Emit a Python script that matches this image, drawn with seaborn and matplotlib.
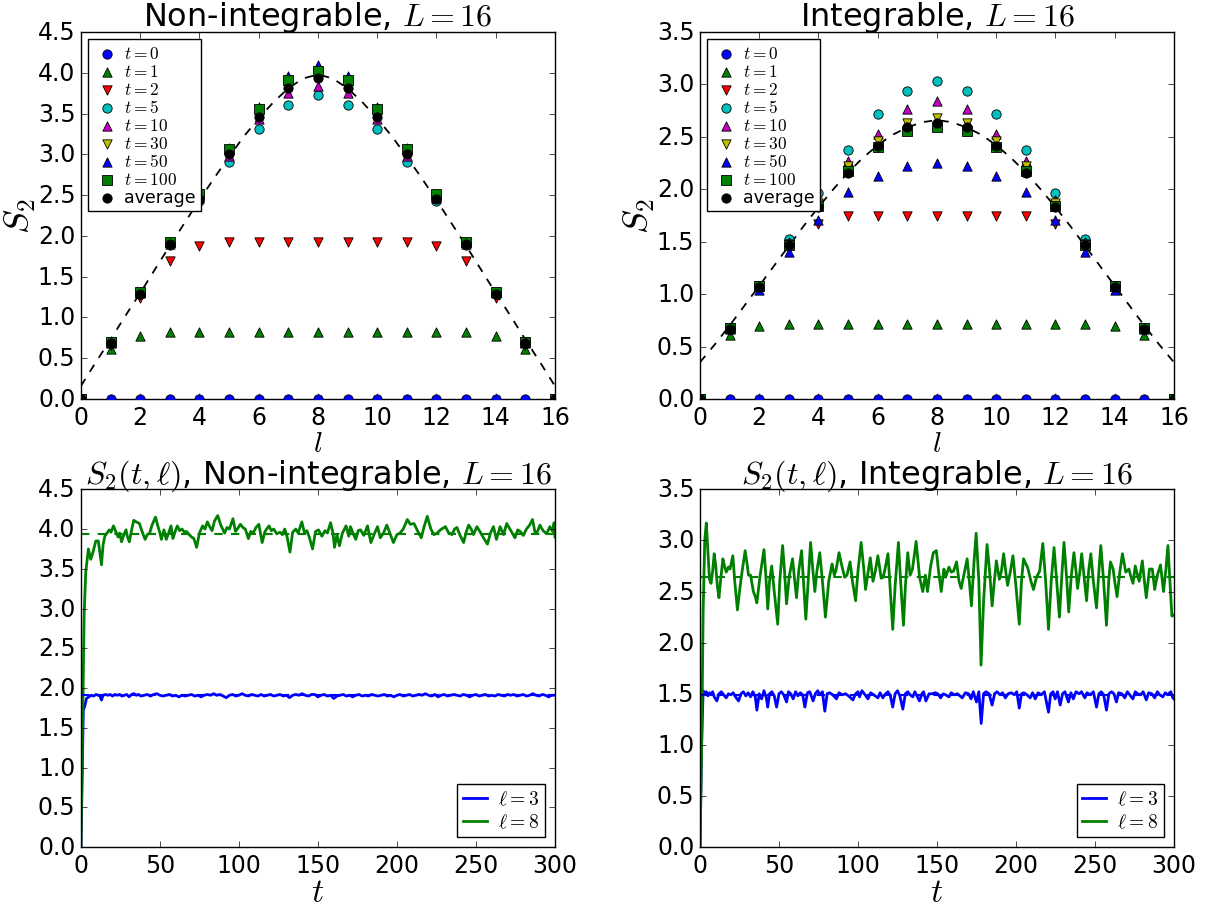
import numpy as np
import pandas as pd
import matplotlib
matplotlib.use("Agg")
import matplotlib.pyplot as plt
import seaborn as sns

# ---------------- data: S2 vs subsystem size l ----------------
ells = list(range(17))
labels = [r"$t=0$", r"$t=1$", r"$t=2$", r"$t=5$", r"$t=10$", r"$t=30$", r"$t=50$", r"$t=100$", "average"]
markers = ["o", "^", "v", "o", "^", "v", "^", "s", "o"]
colors = ["b", "g", "r", "c", "m", "y", "b", "g", "k"]

# non-integrable, L=16
ni_t0 = [0, 0, 0, 0, 0, 0, 0, 0, 0, 0, 0, 0, 0, 0, 0, 0, 0]
ni_t1 = [0, 0.61, 0.77, 0.82, 0.82, 0.82, 0.82, 0.82, 0.82, 0.82, 0.82, 0.82, 0.82, 0.82, 0.77, 0.61, 0]
ni_t2 = [0, 0.66, 1.24, 1.69, 1.88, 1.92, 1.92, 1.92, 1.92, 1.92, 1.92, 1.92, 1.88, 1.69, 1.24, 0.66, 0]
ni_t5 = [0, 0.69, 1.29, 1.89, 2.43, 2.91, 3.31, 3.61, 3.73, 3.61, 3.31, 2.91, 2.43, 1.89, 1.29, 0.69, 0]
ni_t10 = [0, 0.69, 1.30, 1.90, 2.46, 2.98, 3.43, 3.75, 3.84, 3.75, 3.43, 2.98, 2.46, 1.90, 1.30, 0.69, 0]
ni_t30 = [0, 0.70, 1.30, 1.91, 2.47, 3.04, 3.52, 3.88, 3.97, 3.88, 3.52, 3.04, 2.47, 1.91, 1.30, 0.70, 0]
ni_t50 = [0, 0.70, 1.31, 1.92, 2.49, 3.08, 3.58, 3.96, 4.10, 3.96, 3.58, 3.08, 2.49, 1.92, 1.31, 0.70, 0]
ni_t100 = [0, 0.70, 1.31, 1.92, 2.51, 3.07, 3.55, 3.91, 4.02, 3.91, 3.55, 3.07, 2.51, 1.92, 1.31, 0.70, 0]
ni_avg = [0, 0.69, 1.29, 1.90, 2.45, 3.00, 3.46, 3.81, 3.93, 3.81, 3.46, 3.00, 2.45, 1.90, 1.29, 0.69, 0]

# integrable, L=16
in_t0 = [0, 0, 0, 0, 0, 0, 0, 0, 0, 0, 0, 0, 0, 0, 0, 0, 0]
in_t1 = [0, 0.61, 0.70, 0.72, 0.72, 0.72, 0.72, 0.72, 0.72, 0.72, 0.72, 0.72, 0.72, 0.72, 0.70, 0.61, 0]
in_t2 = [0, 0.66, 1.05, 1.45, 1.67, 1.75, 1.75, 1.75, 1.75, 1.75, 1.75, 1.75, 1.67, 1.45, 1.05, 0.66, 0]
in_t5 = [0, 0.68, 1.08, 1.53, 1.96, 2.37, 2.72, 2.94, 3.03, 2.94, 2.72, 2.37, 1.96, 1.53, 1.08, 0.68, 0]
in_t10 = [0, 0.68, 1.08, 1.50, 1.90, 2.27, 2.53, 2.77, 2.84, 2.77, 2.53, 2.27, 1.90, 1.50, 1.08, 0.68, 0]
in_t30 = [0, 0.68, 1.08, 1.48, 1.87, 2.22, 2.46, 2.63, 2.68, 2.63, 2.46, 2.22, 1.87, 1.48, 1.08, 0.68, 0]
in_t50 = [0, 0.67, 1.04, 1.40, 1.71, 1.97, 2.13, 2.22, 2.25, 2.22, 2.13, 1.97, 1.71, 1.40, 1.04, 0.67, 0]
in_t100 = [0, 0.68, 1.08, 1.47, 1.84, 2.17, 2.40, 2.56, 2.59, 2.56, 2.40, 2.17, 1.84, 1.47, 1.08, 0.68, 0]
in_avg = [0, 0.67, 1.07, 1.47, 1.83, 2.16, 2.41, 2.59, 2.63, 2.59, 2.41, 2.16, 1.83, 1.47, 1.07, 0.67, 0]

# dashed theory curves (l = 0, 0.5, ..., 16)
l_fine = [0, 0.5, 1, 1.5, 2, 2.5, 3, 3.5, 4, 4.5, 5, 5.5, 6, 6.5, 7, 7.5, 8,
          8.5, 9, 9.5, 10, 10.5, 11, 11.5, 12, 12.5, 13, 13.5, 14, 14.5, 15, 15.5, 16]
ni_curve = [0.16, 0.45, 0.73, 1.02, 1.30, 1.59, 1.88, 2.16, 2.44, 2.71, 2.97, 3.22, 3.44, 3.64, 3.81, 3.93, 3.98,
            3.93, 3.81, 3.64, 3.44, 3.22, 2.97, 2.71, 2.44, 2.16, 1.88, 1.59, 1.30, 1.02, 0.73, 0.45, 0.16]
in_curve = [0.35, 0.52, 0.70, 0.89, 1.08, 1.27, 1.46, 1.65, 1.83, 2.00, 2.16, 2.30, 2.42, 2.52, 2.59, 2.64, 2.66,
            2.64, 2.59, 2.52, 2.42, 2.30, 2.16, 2.00, 1.83, 1.65, 1.46, 1.27, 1.08, 0.89, 0.70, 0.52, 0.35]

# ---------------- data: S2(t, l) time series ----------------
ni_l3 = [(0, 0.0), (1, 1.2), (1.5, 1.72), (2.5, 1.78), (3.5, 1.87), (5, 1.89), (6.5, 1.91), (8, 1.90), (9.5, 1.92),
         (11, 1.91), (12, 1.90), (13, 1.85), (14, 1.91), (15.5, 1.92), (17, 1.91), (18.5, 1.92), (20, 1.90),
         (21.5, 1.92), (23, 1.91), (24.5, 1.92), (26, 1.90), (27.5, 1.91), (29, 1.92), (30.5, 1.89), (32, 1.92),
         (33.5, 1.93), (35, 1.91), (36.5, 1.92), (38, 1.90), (40, 1.91), (42, 1.92), (44, 1.90), (46, 1.92),
         (48, 1.93), (50, 1.91), (52, 1.90), (54, 1.91), (56, 1.92), (58, 1.90), (60, 1.91), (62, 1.89), (64, 1.91),
         (66, 1.90), (68, 1.91), (70, 1.92), (72, 1.90), (74, 1.91), (76, 1.89), (78, 1.91), (80, 1.92), (82, 1.91),
         (84, 1.93), (86, 1.91), (88, 1.92), (90, 1.90), (92, 1.88), (94, 1.91), (96, 1.92), (98, 1.90), (100, 1.91),
         (102, 1.93), (104, 1.91), (106, 1.90), (108, 1.92), (110, 1.91), (112, 1.90), (114, 1.92), (116, 1.90),
         (118, 1.91), (120, 1.92), (122, 1.90), (124, 1.91), (126, 1.92), (128, 1.90), (130, 1.91), (132, 1.88),
         (134, 1.91), (136, 1.92), (138, 1.91), (140, 1.93), (142, 1.91), (144, 1.90), (146, 1.92), (148, 1.92),
         (150, 1.89), (152, 1.91), (154, 1.92), (156, 1.90), (158, 1.91), (160, 1.87), (162, 1.90), (164, 1.91),
         (166, 1.92), (168, 1.90), (170, 1.91), (172, 1.89), (174, 1.91), (176, 1.92), (178, 1.90), (180, 1.91),
         (182, 1.90), (184, 1.92), (186, 1.91), (188, 1.90), (190, 1.91), (192, 1.92), (194, 1.90), (196, 1.91),
         (198, 1.89), (200, 1.91), (202, 1.92), (204, 1.90), (206, 1.91), (208, 1.92), (210, 1.90), (212, 1.91),
         (214, 1.92), (216, 1.91), (218, 1.93), (220, 1.91), (222, 1.90), (224, 1.92), (226, 1.89), (228, 1.91),
         (230, 1.92), (232, 1.90), (234, 1.91), (236, 1.92), (238, 1.91), (240, 1.90), (242, 1.92), (244, 1.91),
         (246, 1.89), (248, 1.91), (250, 1.92), (252, 1.90), (254, 1.91), (256, 1.92), (258, 1.90), (260, 1.91),
         (262, 1.90), (264, 1.92), (266, 1.91), (268, 1.90), (270, 1.92), (272, 1.91), (274, 1.92), (276, 1.90),
         (278, 1.91), (280, 1.92), (282, 1.90), (284, 1.91), (286, 1.93), (288, 1.91), (290, 1.90), (292, 1.92),
         (294, 1.91), (296, 1.89), (298, 1.91), (300, 1.91)]

ni_l8 = [(0, 0.0), (1, 1.5), (2, 2.9), (3, 3.45), (4.7, 3.75), (6.2, 3.62), (7.5, 3.7), (9.4, 3.85), (11, 3.85),
         (12, 3.7), (13, 3.55), (14, 3.8), (15.1, 3.91), (16.5, 3.95), (17.9, 3.99), (19, 3.96), (20.6, 4.04),
         (22, 3.97), (23.5, 3.9), (24.5, 3.95), (25.7, 3.84), (27, 3.92), (28.5, 3.99), (29.5, 3.9), (30.6, 3.84),
         (32, 3.98), (33.4, 4.11), (35, 4.09), (37, 4.07), (38.5, 3.98), (40.6, 3.87), (42, 3.93), (43.5, 3.95),
         (45, 4.05), (47.2, 4.15), (48.5, 4.05), (50, 3.95), (50.9, 3.87), (52.5, 3.99), (54, 3.87), (55.5, 3.95),
         (57, 4.04), (58.2, 3.88), (59.5, 3.96), (61, 4.04), (62.5, 3.98), (64, 4.0), (65.5, 3.96), (66.8, 3.97),
         (68.5, 3.93), (70, 3.9), (71.5, 3.88), (73.2, 3.77), (75, 3.95), (77, 4.04), (78.5, 4.0), (80, 4.09),
         (81.5, 4.03), (83, 3.98), (84.5, 4.1), (86.6, 4.17), (88.5, 4.05), (90.9, 3.95), (92.5, 4.02), (94, 4.0),
         (96.2, 4.13), (97.8, 3.97), (99, 4.0), (100.9, 4.06), (102.5, 4.02), (104, 4.0), (106, 3.88), (107.5, 3.97),
         (109, 3.95), (110.8, 4.02), (112.6, 4.06), (114.7, 3.83), (116.5, 3.97), (119, 4.04), (120.5, 3.98),
         (122, 4.0), (124, 3.94), (126, 3.96), (127.5, 3.93), (129, 4.0), (130.5, 3.9), (132.3, 3.71), (134, 3.96),
         (136, 4.0), (137.5, 3.95), (139.8, 4.09), (141.5, 3.95), (143, 3.98), (144.5, 3.9), (146.6, 3.75),
         (148.5, 3.97), (150.4, 3.99), (152.5, 3.91), (154.5, 3.98), (156, 3.95), (158, 4.08), (159.5, 3.95),
         (160.5, 3.77), (162, 3.93), (163.6, 3.79), (165.5, 3.95), (167.8, 4.04), (169.5, 3.91), (170.6, 4.03),
         (172.5, 3.93), (174, 3.87), (175.5, 3.98), (177, 3.99), (179, 3.92), (181.4, 4.04), (183.5, 3.83),
         (185.5, 3.93), (187.7, 4.03), (189.5, 3.89), (191.5, 3.95), (193.6, 4.05), (195.5, 3.95), (197.8, 3.83),
         (200, 3.93), (202, 3.95), (204, 4.0), (206.6, 4.12), (208.5, 4.06), (210.8, 4.07), (213, 3.98),
         (215.4, 3.89), (217.2, 4.03), (219.2, 4.16), (221.5, 4.0), (223.4, 3.93), (225.5, 3.95), (227.5, 3.99),
         (230.7, 4.03), (232.5, 3.96), (234.8, 3.93), (236.5, 4.0), (238, 4.02), (240, 3.92), (242.2, 3.83),
         (243.8, 3.96), (245.4, 4.05), (247, 4.0), (248.5, 3.93), (250.6, 4.03), (252.5, 3.97), (254.5, 3.9),
         (257.3, 3.81), (259.2, 3.95), (261.1, 4.03), (263, 3.87), (265.3, 4.03), (267.5, 3.93), (269.5, 4.07),
         (271.5, 4.0), (273, 3.95), (274.7, 3.89), (276.5, 3.99), (278, 3.97), (280, 3.92), (282, 4.0), (284, 4.05),
         (285.8, 4.12), (287.5, 3.95), (289, 3.97), (290.5, 4.05), (292.5, 3.98), (294.7, 3.94), (296.8, 4.03),
         (298.5, 3.97), (299.5, 4.08), (300, 3.9)]

in_l3 = [(0, 0.0), (1, 1.0), (2, 1.53), (3, 1.5), (4, 1.52), (5, 1.48), (6, 1.51), (7, 1.49), (8, 1.52), (9, 1.47),
         (10.7, 1.43), (12, 1.5), (13.5, 1.52), (15, 1.49), (16.6, 1.46), (18, 1.5), (19.5, 1.49), (21, 1.51),
         (22.5, 1.47), (24.4, 1.43), (26, 1.5), (27.5, 1.52), (29, 1.48), (30.5, 1.51), (32, 1.47), (33.5, 1.52),
         (35, 1.47), (36, 1.34), (37.5, 1.5), (39, 1.45), (40.5, 1.53), (42, 1.46), (42.9, 1.37), (44, 1.5),
         (45.5, 1.52), (47, 1.48), (48.5, 1.37), (50, 1.5), (51.5, 1.52), (53, 1.49), (54.8, 1.42), (56, 1.52),
         (57.5, 1.5), (59, 1.45), (60.5, 1.52), (62, 1.48), (63.5, 1.51), (65, 1.49), (66.4, 1.37), (68, 1.51),
         (69.5, 1.52), (71.6, 1.43), (73, 1.5), (74.5, 1.53), (76, 1.49), (77.5, 1.52), (79, 1.33), (80.5, 1.5),
         (82, 1.51), (84, 1.49), (86.4, 1.45), (88, 1.51), (90, 1.49), (92, 1.5), (94, 1.48), (96.8, 1.44),
         (98.5, 1.5), (100, 1.52), (101, 1.47), (102.5, 1.53), (104.5, 1.49), (106.3, 1.45), (108, 1.51),
         (110, 1.49), (112.6, 1.46), (114, 1.51), (115.7, 1.46), (117.5, 1.5), (119, 1.52), (120.5, 1.48),
         (122, 1.37), (123.5, 1.5), (125, 1.53), (126.5, 1.48), (128.4, 1.35), (130, 1.5), (131.5, 1.52),
         (133, 1.49), (134.7, 1.47), (136, 1.52), (138.9, 1.43), (140.5, 1.5), (141.5, 1.52), (143, 1.43),
         (145, 1.5), (147, 1.5), (149, 1.51), (150.5, 1.5), (152.3, 1.46), (154, 1.5), (155.5, 1.49), (157.6, 1.47),
         (159, 1.51), (161, 1.49), (163, 1.5), (166, 1.46), (168, 1.51), (170, 1.5), (171.6, 1.45), (173, 1.52),
         (175, 1.42), (176.5, 1.52), (178, 1.21), (179.5, 1.5), (181, 1.52), (183, 1.5), (184.9, 1.39),
         (186.5, 1.5), (188, 1.52), (190, 1.49), (191.5, 1.51), (193.3, 1.46), (195, 1.5), (197, 1.51), (199, 1.49),
         (200.5, 1.52), (202.1, 1.36), (203.5, 1.5), (205, 1.51), (207, 1.49), (209, 1.46), (210.5, 1.51),
         (212.2, 1.45), (214, 1.51), (216, 1.49), (218, 1.52), (220.6, 1.32), (222, 1.5), (223.5, 1.52),
         (224.8, 1.45), (226.3, 1.52), (228, 1.39), (229.5, 1.5), (231, 1.52), (233.2, 1.42), (234.8, 1.51),
         (236.3, 1.45), (238, 1.52), (240, 1.5), (241.5, 1.52), (243.6, 1.46), (245, 1.51), (247, 1.49),
         (249, 1.52), (251, 1.37), (252.5, 1.5), (254, 1.52), (255.5, 1.49), (257.3, 1.34), (258.8, 1.5),
         (260.5, 1.52), (262, 1.5), (263.6, 1.42), (265, 1.51), (267, 1.5), (268.9, 1.46), (270.5, 1.52),
         (272, 1.49), (274, 1.45), (275.5, 1.52), (277, 1.5), (279, 1.49), (280.5, 1.52), (282.5, 1.44), (284, 1.51),
         (286, 1.5), (287.8, 1.46), (289.5, 1.52), (291, 1.49), (293, 1.47), (294.5, 1.51), (296, 1.49),
         (298, 1.52), (299.3, 1.46), (300, 1.45)]

in_l8 = [(0, 0.0), (1, 0.9), (2, 2.3), (3, 3.0), (4, 3.17), (5, 2.9), (6, 2.62), (7, 2.58), (8, 2.7), (9, 2.87),
         (10, 2.75), (11, 2.55), (12, 2.44), (13, 2.6), (14.5, 2.82), (15.5, 2.75), (16.6, 2.69), (18, 2.74),
         (19, 2.72), (20.8, 2.85), (22, 2.6), (23.7, 2.32), (25, 2.5), (26.5, 2.68), (28.6, 2.9), (30, 2.75),
         (30.7, 2.66), (32, 2.66), (33.8, 2.5), (35, 2.45), (36, 2.39), (38, 2.65), (40.5, 2.91), (41.5, 2.7),
         (42.9, 2.33), (44, 2.6), (45.4, 2.75), (47, 2.5), (49.2, 2.18), (50.5, 2.6), (52.3, 2.95), (53.5, 2.7),
         (54.8, 2.38), (56.5, 2.65), (58.6, 2.82), (60, 2.6), (61.1, 2.44), (62.5, 2.7), (64.3, 2.9), (65.5, 2.6),
         (67, 2.23), (68.5, 2.6), (70, 2.98), (71.5, 2.7), (72.7, 2.5), (74, 2.7), (75.8, 2.88), (77.5, 2.6),
         (79.4, 2.25), (81.5, 2.6), (83.6, 2.77), (85, 2.66), (86, 2.7), (88, 2.88), (89.5, 2.77), (91.6, 2.64),
         (93, 2.66), (95, 2.79), (96.5, 2.6), (98.5, 2.41), (100, 2.7), (102, 2.98), (103.5, 2.75), (104.8, 2.52),
         (106, 2.65), (107.8, 2.83), (109.5, 2.6), (111, 2.7), (112.6, 2.85), (114.7, 2.63), (116, 2.64),
         (117.5, 2.75), (119, 2.87), (120.5, 2.5), (122, 2.13), (123.5, 2.55), (125.6, 2.98), (127, 2.6),
         (128.8, 2.17), (130, 2.55), (131.5, 2.88), (133, 2.66), (134.5, 2.72), (136.8, 2.99), (138, 2.8),
         (139, 2.64), (141, 2.5), (142.7, 2.66), (144, 2.5), (146, 2.75), (147.7, 2.88), (149.6, 2.9), (151, 2.7),
         (152.7, 2.5), (154.4, 2.72), (155.5, 2.64), (157.6, 2.74), (159, 2.69), (160.5, 2.7), (162.4, 2.79),
         (164, 2.6), (165.3, 2.53), (167, 2.66), (169.1, 2.82), (170.5, 2.6), (171.8, 2.36), (173.5, 2.8),
         (174.8, 3.07), (176.5, 2.6), (177.9, 1.78), (179.5, 2.4), (181.7, 2.96), (183.3, 2.7), (184.9, 2.36),
         (186.3, 2.6), (187.6, 2.8), (189.5, 2.62), (190.8, 2.7), (192.2, 2.87), (193.5, 2.7), (194.7, 2.56),
         (196.5, 2.7), (198.1, 2.85), (200, 2.55), (202.1, 2.18), (203.5, 2.6), (204.8, 2.82), (207.5, 2.73),
         (209.5, 2.6), (211.1, 2.52), (213, 2.64), (215, 2.7), (217, 2.97), (218.8, 2.6), (220.6, 2.13),
         (222.3, 2.6), (224.1, 2.93), (225.8, 2.6), (227.5, 2.25), (229, 2.65), (230.4, 2.98), (232, 2.65),
         (233.4, 2.3), (235, 2.65), (236.7, 2.88), (238, 2.7), (239, 2.53), (240.5, 2.7), (241.6, 2.87), (243, 2.66),
         (244.7, 2.41), (246, 2.7), (247.4, 2.87), (249, 2.6), (251, 2.34), (252.5, 2.7), (253.7, 2.95),
         (255.5, 2.6), (257.3, 2.17), (258.7, 2.6), (259.8, 2.79), (261.5, 2.72), (262.5, 2.6), (264, 2.45),
         (265.8, 2.7), (267.4, 2.87), (269.5, 2.69), (271.5, 2.72), (272.5, 2.66), (274.1, 2.58), (275.5, 2.75),
         (276.5, 2.69), (278, 2.6), (280, 2.8), (281.3, 2.6), (282.5, 2.44), (284.5, 2.72), (286.3, 2.72),
         (287.8, 2.52), (289.5, 2.66), (291.5, 2.76), (293.4, 2.5), (294.8, 2.7), (296.2, 2.95), (297.5, 2.6),
         (298.7, 2.26), (300, 2.27)]

# long-time averages (dashed lines)
ni_mean_l3, ni_mean_l8 = 1.91, 3.94
in_mean_l3, in_mean_l8 = 1.49, 2.64

# ---------------- style ----------------
plt.style.use("classic")
plt.rcParams.update({
    "figure.facecolor": "white",
    "savefig.facecolor": "white",
    "font.family": ["DejaVu Sans"],
    "mathtext.fontset": "cm",
    "xtick.labelsize": 17,
    "ytick.labelsize": 17,
    "legend.fancybox": False,
    "legend.numpoints": 1,
    "legend.scatterpoints": 1,
})

fig = plt.figure(figsize=(12.1, 9.12), dpi=100)
w, h = 0.3917, 0.4024
ax_tl = fig.add_axes([0.0669, 0.5614, w, h])
ax_tr = fig.add_axes([0.5785, 0.5614, w, h])
ax_bl = fig.add_axes([0.0669, 0.0700, w, h - 0.010])
ax_br = fig.add_axes([0.5785, 0.0700, w, h - 0.010])


def page_panel(ax, series, curve, title, ymax):
    sns.lineplot(x=l_fine, y=curve, color="k", linestyle="--", lw=1.3, ax=ax,
                 estimator=None, sort=False, zorder=2)
    for vals, m, c, lab in zip(series, markers, colors, labels):
        sns.scatterplot(x=ells, y=vals, marker=m, color=c, s=45, edgecolor="k",
                        linewidth=0.6, ax=ax, label=lab, zorder=3)
    ax.set_xlim(0, 16)
    ax.set_ylim(0, ymax)
    ax.set_xticks(np.arange(0, 17, 2))
    ax.set_yticks(np.arange(0, ymax + 0.01, 0.5))
    ax.set_title(title, fontsize=23)
    ax.set_xlabel(r"$l$", fontsize=21, labelpad=0)
    ax.set_ylabel(r"$S_2$", fontsize=26, labelpad=0)
    ax.legend(loc="upper left", fontsize=12.5, labelspacing=0.0, handletextpad=0.2,
              handlelength=1.6, borderpad=0.3, borderaxespad=0.4, frameon=True, edgecolor="k")


def time_panel(ax, l3, l8, m3, m8, title, ymax):
    t3, s3 = zip(*l3)
    t8, s8 = zip(*l8)
    sns.lineplot(x=list(t3), y=list(s3), color="b", lw=2, ax=ax, label=r"$\ell=3$",
                 estimator=None, sort=False)
    sns.lineplot(x=list(t8), y=list(s8), color="g", lw=2, ax=ax, label=r"$\ell=8$",
                 estimator=None, sort=False)
    ax.axhline(m3, color="b", ls="--", lw=1.5)
    ax.axhline(m8, color="g", ls="--", lw=1.5)
    ax.set_xlim(0, 300)
    ax.set_ylim(0, ymax)
    ax.set_xticks(np.arange(0, 301, 50))
    ax.set_yticks(np.arange(0, ymax + 0.01, 0.5))
    ax.set_title(title, fontsize=23)
    ax.set_xlabel(r"$t$", fontsize=24, labelpad=-1)
    ax.set_ylabel("")
    ax.legend(loc="lower right", fontsize=14, handlelength=1.2, labelspacing=0.2,
              handletextpad=0.6, borderpad=0.3, frameon=True, edgecolor="k")


page_panel(ax_tl, [ni_t0, ni_t1, ni_t2, ni_t5, ni_t10, ni_t30, ni_t50, ni_t100, ni_avg],
           ni_curve, r"Non-integrable, $L=16$", 4.5)
page_panel(ax_tr, [in_t0, in_t1, in_t2, in_t5, in_t10, in_t30, in_t50, in_t100, in_avg],
           in_curve, r"Integrable, $L=16$", 3.5)
time_panel(ax_bl, ni_l3, ni_l8, ni_mean_l3, ni_mean_l8,
           r"$S_2(t,\ell)$, Non-integrable, $L=16$", 4.5)
time_panel(ax_br, in_l3, in_l8, in_mean_l3, in_mean_l8,
           r"$S_2(t,\ell)$, Integrable, $L=16$", 3.5)

fig.savefig("out.png", dpi=100)
